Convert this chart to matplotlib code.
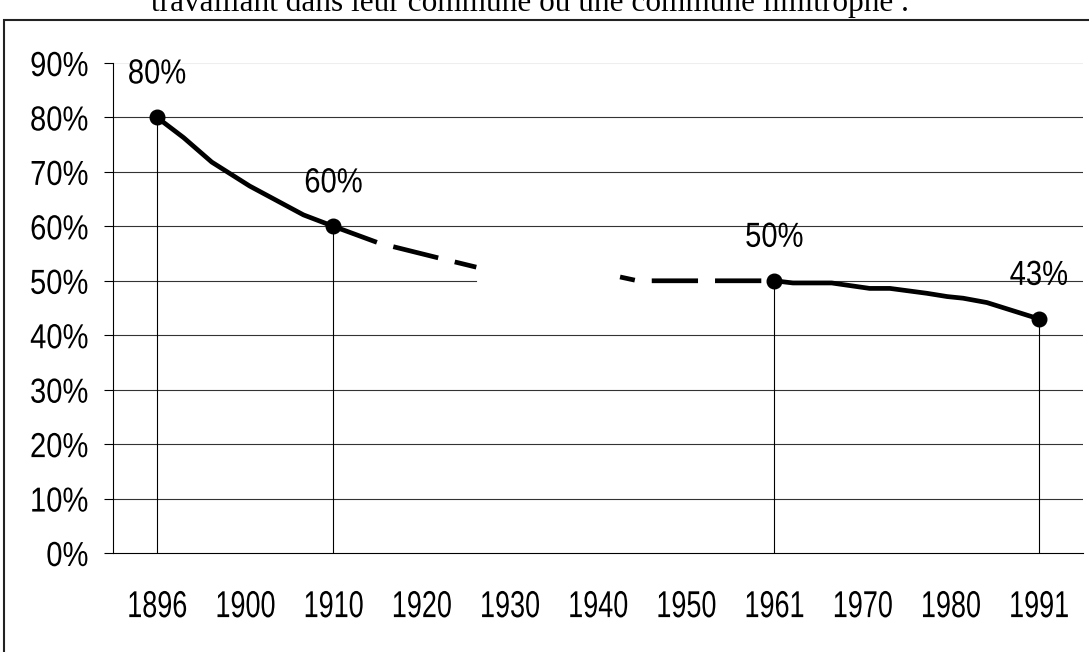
import matplotlib
matplotlib.use("Agg")
import matplotlib.pyplot as plt
from matplotlib.patches import Rectangle
from matplotlib.patheffects import AbstractPathEffect
from matplotlib.transforms import Affine2D
import numpy as np

years = ['1896', '1900', '1910', '1920', '1930', '1940', '1950', '1961', '1970', '1980', '1991']

# measured points (position on the year axis, share)
point_pos = [0, 2, 7, 10]
point_vals = [0.80, 0.60, 0.50, 0.43]

# 1896 -> 1910, solid
seg1_x = [0, 0.3, 0.62, 1.05, 1.66, 2]
seg1_y = [0.80, 0.763, 0.718, 0.674, 0.621, 0.60]
# 1910 -> ~1925, dashed estimate
seg2_x = [2, 2.52, 3.24, 3.62]
seg2_y = [0.60, 0.569, 0.540, 0.525]
# ~1945 -> 1961, dashed estimate
seg3_x = [5.25, 5.45, 7]
seg3_y = [0.507, 0.50, 0.50]
# 1961 -> 1991, solid
seg4_x = [7, 7.21, 7.65, 8.08, 8.31, 8.73, 8.96, 9.14, 9.41, 10]
seg4_y = [0.50, 0.496, 0.496, 0.486, 0.486, 0.477, 0.471, 0.468, 0.460, 0.43]

ytick_vals = [0, 0.1, 0.2, 0.3, 0.4, 0.5, 0.6, 0.7, 0.8, 0.9]
ytick_labels = ['0%', '10%', '20%', '30%', '40%', '50%', '60%', '70%', '80%', '90%']

title = 'travaillant dans leur commune ou une commune limitrophe .'

sans = ['Liberation Sans', 'DejaVu Sans']


class Condense(AbstractPathEffect):
    """Squeeze the glyphs horizontally, keeping one edge (or the centre) in place."""

    def __init__(self, sx, anchor='center'):
        super().__init__()
        self.sx = sx
        self.anchor = anchor

    def draw_path(self, renderer, gc, tpath, affine, rgbFace=None):
        ext = tpath.transformed(affine).get_extents()
        if self.anchor == 'right':
            cx = ext.x1
        else:
            cx = (ext.x0 + ext.x1) / 2
        squeeze = Affine2D().translate(-cx, 0).scale(self.sx, 1).translate(cx, 0)
        renderer.draw_path(gc, tpath, affine + squeeze, rgbFace)


fig = plt.figure(figsize=(10.89, 6.52), dpi=100)
ax = fig.add_axes([113/1089, 99/652, 970/1089, 490/652])
ax.set_xlim(-0.5, len(years) - 0.5)
ax.set_ylim(0, 0.9)

# horizontal grid, the 50% line is cut where the series is missing
for v in ytick_vals[1:]:
    if v == 0.5:
        ax.plot([-0.5, seg2_x[-1]], [v, v], color='#333333', lw=0.8, zorder=1)
        ax.plot([point_pos[2], len(years) - 0.5], [v, v], color='#333333', lw=0.8, zorder=1)
    elif v == 0.9:
        ax.axhline(v, color='#eeeeee', lw=0.8, zorder=1)
    else:
        ax.axhline(v, color='#333333', lw=0.8, zorder=1)

ax.vlines(point_pos, 0, point_vals, color='k', lw=0.8, zorder=2)

ax.plot(seg1_x, seg1_y, color='k', lw=3.4, solid_capstyle='round', zorder=3)
ax.plot(seg2_x, seg2_y, color='k', lw=3.4, linestyle=(0, (9.8, 3.6)), zorder=3)
ax.plot(seg3_x, seg3_y, color='k', lw=3.4, linestyle=(6.6, (9.8, 3.6)), zorder=3)
ax.plot(seg4_x, seg4_y, color='k', lw=3.4, solid_capstyle='round', zorder=3)
ax.plot(point_pos, point_vals, 'o', color='k', ms=10.5, zorder=4)

for x, v in zip(point_pos, point_vals):
    ax.annotate(f'{v:.0%}', (x, v), xytext=(0, 24.5), textcoords='offset points',
                ha='center', va='baseline', fontsize=25, family=sans,
                path_effects=[Condense(0.84)])

ax.set_yticks(ytick_vals)
ax.set_yticklabels(ytick_labels, fontsize=25, family=sans)
ax.set_xticks(range(len(years)))
ax.set_xticklabels(years, fontsize=27, family=sans)
for lab in ax.get_yticklabels():
    lab.set_path_effects([Condense(0.84, 'right')])
for lab in ax.get_xticklabels():
    lab.set_path_effects([Condense(0.72)])
ax.tick_params(axis='x', length=0, pad=26)
ax.tick_params(axis='y', length=6.5, width=0.8, pad=11, direction='out')

for s in ['top', 'right']:
    ax.spines[s].set_visible(False)
for s in ['left', 'bottom']:
    ax.spines[s].set_linewidth(0.8)
    ax.spines[s].set_color('k')

fig.text(530/1089, 1 - 11/652, title, ha='center', va='baseline', fontsize=22.5,
         family=['Liberation Serif', 'DejaVu Serif'])

fig.add_artist(Rectangle((4/1089, -0.1), 1.2, 1.1 - 20/652, transform=fig.transFigure,
                         fill=False, lw=1.5, ec='#222222', clip_on=False))

fig.savefig('out.png', dpi=100)
